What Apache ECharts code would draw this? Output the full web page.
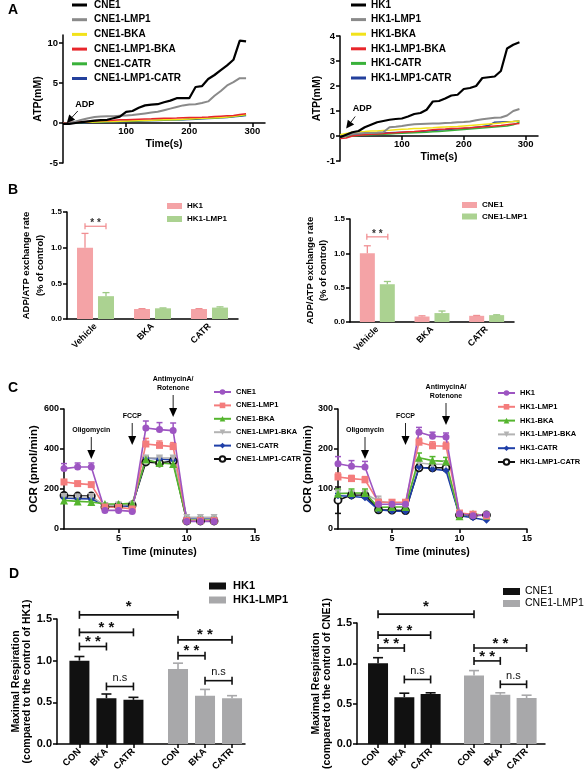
<!DOCTYPE html>
<html><head><meta charset="utf-8">
<script src="https://cdn.jsdelivr.net/npm/echarts@6/dist/echarts.min.js"></script>
<style>html,body{margin:0;padding:0;background:#fff}#c{width:586px;height:778px}</style>
</head><body><div id="c"></div>
<script>
// ================= DATA =================
// Panel A : ATP production (mM) vs time (s)
const timeA = [0,10,20,30,40,50,60,70,80,90,100,110,120,130,140,150,160,170,180,190,200,210,220,230,240,250,260,270,280,290];
const atpCNE1          = [-0.1,-0.1,0,0.1,0.2,0.3,0.35,0.4,0.6,0.8,1.4,1.5,1.9,2.2,2.3,2.35,2.6,2.8,3.1,3.1,3.1,4.5,4.6,5.5,6.0,6.6,7.2,7.9,10.3,10.2];
const atpCNE1_LMP1     = [-0.1,0,0.2,0.4,0.6,0.75,0.8,0.85,0.85,0.9,0.95,1.0,1.1,1.2,1.3,1.4,1.6,1.8,2.0,2.2,2.3,2.35,2.5,2.7,3.4,4.0,4.7,5.1,5.6,5.6];
const atpCNE1_BKA      = [0,0,0.05,0.08,0.1,0.12,0.15,0.18,0.2,0.22,0.25,0.28,0.3,0.32,0.35,0.38,0.4,0.42,0.45,0.48,0.5,0.55,0.6,0.62,0.65,0.7,0.75,0.85,0.95,1.05];
const atpCNE1_LMP1_BKA = [0,0.05,0.1,0.15,0.2,0.25,0.3,0.32,0.35,0.4,0.42,0.45,0.48,0.5,0.52,0.55,0.58,0.6,0.62,0.65,0.68,0.7,0.72,0.75,0.8,0.85,0.9,0.95,1.05,1.15];
const atpCNE1_CATR     = [0,0,0.02,0.05,0.08,0.1,0.12,0.15,0.18,0.2,0.22,0.25,0.28,0.3,0.32,0.35,0.38,0.4,0.42,0.45,0.5,0.52,0.55,0.58,0.62,0.68,0.72,0.8,0.9,1.0];
const atpCNE1_LMP1_CATR= [0,-0.05,0,0.02,0.05,0.08,0.1,0.12,0.15,0.18,0.2,0.22,0.25,0.28,0.3,0.32,0.35,0.38,0.4,0.42,0.45,0.48,0.52,0.55,0.6,0.65,0.7,0.78,0.85,0.95];

const atpHK1           = [-0.05,0.05,0.15,0.2,0.35,0.45,0.55,0.6,0.65,0.68,0.7,0.78,0.88,0.92,1.05,1.38,1.4,1.5,1.62,1.65,1.88,1.92,2.0,2.32,2.35,2.38,2.6,3.5,3.65,3.75];
const atpHK1_LMP1      = [-0.05,0.02,0.08,0.1,0.12,0.12,0.13,0.15,0.35,0.37,0.4,0.44,0.47,0.48,0.49,0.5,0.5,0.52,0.53,0.55,0.56,0.58,0.63,0.67,0.7,0.73,0.74,0.82,1.0,1.08];
const atpHK1_BKA       = [0.05,0.1,0.15,0.17,0.18,0.2,0.2,0.22,0.23,0.25,0.27,0.28,0.3,0.3,0.32,0.33,0.35,0.36,0.37,0.38,0.4,0.42,0.44,0.46,0.48,0.5,0.52,0.55,0.58,0.6];
const atpHK1_LMP1_BKA  = [-0.1,-0.08,0,0.03,0.05,0.07,0.08,0.1,0.12,0.13,0.15,0.17,0.18,0.2,0.22,0.25,0.27,0.28,0.3,0.3,0.32,0.33,0.35,0.37,0.38,0.4,0.42,0.45,0.48,0.5];
const atpHK1_CATR      = [-0.05,-0.02,0,0.02,0.04,0.05,0.06,0.07,0.08,0.1,0.11,0.12,0.13,0.14,0.15,0.17,0.18,0.2,0.22,0.24,0.26,0.28,0.3,0.32,0.34,0.36,0.38,0.4,0.45,0.55];
const atpHK1_LMP1_CATR = [0,0.02,0.05,0.07,0.08,0.1,0.11,0.12,0.13,0.14,0.15,0.16,0.17,0.18,0.2,0.22,0.24,0.25,0.27,0.29,0.3,0.32,0.35,0.38,0.42,0.55,0.56,0.57,0.58,0.6];
const adpLabel = 'ADP';
const adpAnchorCNE = [6, 0];
const adpAnchorHK = [10, 0.3];
const ticksA1Y = [-5, 0, 5, 10];
const ticksAX = [100, 200, 300];

// Panel B : ADP/ATP exchange rate
const bCats = ['Vehicle', 'BKA', 'CATR'];
const bHK1 = [1.0, 0.14, 0.14];
const bHK1Err = [0.2, 0.005, 0.005];
const bHK1_LMP1 = [0.32, 0.15, 0.16];
const bHK1_LMP1Err = [0.05, 0.005, 0.01];
const bCNE1 = [1.0, 0.08, 0.09];
const bCNE1Err = [0.11, 0.01, 0.005];
const bCNE1_LMP1 = [0.55, 0.13, 0.1];
const bCNE1_LMP1Err = [0.04, 0.03, 0.005];
const bSigHK = [[0, 1.30]];
const bSigCNE = [[0, 1.24]];
const bSigLabel = '* *';

// Panel C : OCR (pmol/min)
const cTime = [1,2,3,4,5,6,7,8,9,10,11,12];
const ocrCNE1           = [302,310,310,93,93,88,505,497,492,38,38,38];
const ocrCNE1Err        = [25,20,20,10,8,8,35,35,38,5,5,5];
const ocrCNE1_LMP1      = [235,227,222,110,108,100,425,418,412,42,42,42];
const ocrCNE1_LMP1Err   = [12,10,8,8,8,8,28,22,20,4,4,4];
const ocrCNE1_BKA       = [143,138,135,125,125,128,347,330,325,45,45,45];
const ocrCNE1_BKAErr    = [10,8,8,6,5,5,15,15,12,3,3,3];
const ocrCNE1_LMP1_BKA  = [162,160,162,118,120,122,355,355,355,58,58,58];
const ocrCNE1_LMP1_BKAErr=[8,6,6,5,5,5,10,10,10,3,3,3];
const ocrCNE1_CATR      = [155,152,150,120,118,112,355,350,345,55,55,55];
const ocrCNE1_CATRErr   = [6,5,5,5,5,5,8,8,8,3,3,3];
const ocrCNE1_LMP1_CATR = [168,165,165,110,115,120,335,330,340,40,40,40];
const ocrCNE1_LMP1_CATRErr=[8,6,6,5,5,5,20,18,15,3,3,3];

const ocrHK1            = [163,157,155,62,62,62,242,232,230,38,33,36];
const ocrHK1Err         = [18,14,14,8,8,8,12,10,10,4,4,4];
const ocrHK1_LMP1       = [130,126,123,67,67,67,217,208,207,40,37,33];
const ocrHK1_LMP1Err    = [10,8,8,6,6,6,10,10,10,4,4,4];
const ocrHK1_BKA        = [88,90,90,54,55,55,178,171,169,32,38,33];
const ocrHK1_BKAErr     = [12,10,10,6,6,6,12,10,10,4,4,4];
const ocrHK1_LMP1_BKA   = [90,88,88,70,65,65,165,162,162,38,35,35];
const ocrHK1_LMP1_BKAErr= [8,6,6,12,6,6,8,8,8,3,3,3];
const ocrHK1_CATR       = [83,82,78,48,45,44,155,150,146,33,28,22];
const ocrHK1_CATRErr    = [6,5,5,4,4,4,6,6,6,3,3,3];
const ocrHK1_LMP1_CATR  = [72,85,85,48,47,46,153,153,153,35,33,35];
const ocrHK1_LMP1_CATRErr=[33,6,6,4,4,4,6,6,6,3,3,3];
const ocrHK1_LMP1_CATRErrDown=[33,0,0,0,0,0,0,0,0,0,0,0];
const injTimes = [3, 6, 9];
const injLabels = ['Oligomycin', 'FCCP', 'AntimycinA/\nRotenone'];
const injTipCNE = [350, 420, 560];
const injTipHK = [175, 210, 260];
const ticksCX = [5, 10, 15];

// Panel D : Maximal respiration
const dCats = ['CON', 'BKA', 'CATR', 'CON', 'BKA', 'CATR'];
const dPositions = [1, 2, 3, 4.65, 5.65, 6.65];
const dHK1 = [1.0, 0.55, 0.53];
const dHK1Err = [0.05, 0.05, 0.03];
const dHK1_LMP1 = [0.9, 0.58, 0.55];
const dHK1_LMP1Err = [0.07, 0.075, 0.03];
const dCNE1 = [1.0, 0.58, 0.62];
const dCNE1Err = [0.07, 0.05, 0.015];
const dCNE1_LMP1 = [0.85, 0.61, 0.57];
const dCNE1_LMP1Err = [0.06, 0.025, 0.035];
// brackets: [from index, to index, height]
const dSigHK = [[0,3,1.55],[0,2,1.34],[0,1,1.17],[1,2,0.69],[3,5,1.25],[3,4,1.06],[4,5,0.76]];
const dSigCNE = [[0,3,1.61],[0,2,1.35],[0,1,1.19],[1,2,0.80],[3,5,1.19],[3,4,1.03],[4,5,0.74]];
const dSigLabels = ['*','* *','* *','n.s','* *','* *','n.s'];

// ================= STYLE / HELPERS =================
const FONT = '"Liberation Sans", Arial, sans-serif';
function merge(a, b) {
  const o = Array.isArray(a) ? a.slice() : Object.assign({}, a);
  for (const k in b) {
    if (b[k] && typeof b[k] === 'object' && !Array.isArray(b[k]) && a && typeof a[k] === 'object' && !Array.isArray(a[k])) o[k] = merge(a[k], b[k]);
    else o[k] = b[k];
  }
  return o;
}
const baseAxis = {
  splitLine: {show: false},
  axisLine: {show: true, onZero: false, lineStyle: {color: '#000', width: 1.5}},
  axisTick: {show: true, length: 4, lineStyle: {color: '#000', width: 1.5}},
  axisLabel: {color: '#000', fontWeight: 'bold', fontFamily: FONT, fontSize: 9, margin: 5},
  nameLocation: 'middle',
  nameTextStyle: {color: '#000', fontWeight: 'bold', fontFamily: FONT, fontSize: 10.5}
};
const ax = (o) => merge(baseAxis, o);
const pairs = (xs, ys) => xs.map((x, i) => [x, ys[i]]);
const lgFmt = (n) => n.split('|')[1];

// grid layouts
const gA1 = {left: 63, top: 35, width: 202, height: 128};
const gA2 = {left: 340, top: 36, width: 198, height: 125};
const yA1 = {min: -5, max: 11};
const yA2 = {min: -1, max: 4};
// x axis of panel A crosses at y = 0: shift it up from the grid bottom to the zero line
const zeroOffset = (g, y) => -g.height * (0 - y.min) / (y.max - y.min);

function errSeries(name, gi, xs, ys, up, down, color, cap, lw, offset) {
  return {
    type: 'custom', name: name, xAxisIndex: gi, yAxisIndex: gi, silent: true, clip: false, z: 3,
    data: xs.map((x, i) => [x, ys[i], up[i], down ? down[i] : 0]),
    renderItem: function (params, api) {
      const x = api.value(0), y = api.value(1), eu = api.value(2), ed = api.value(3);
      const pu = api.coord([x, y + eu]), pd = api.coord([x, y - ed]);
      const cx = pu[0] + (offset || 0);
      const ch = [{type: 'line', shape: {x1: cx, y1: pd[1], x2: cx, y2: pu[1]}, style: {stroke: color, lineWidth: lw}}];
      if (eu > 0) ch.push({type: 'line', shape: {x1: cx - cap / 2, y1: pu[1], x2: cx + cap / 2, y2: pu[1]}, style: {stroke: color, lineWidth: lw}});
      if (ed > 0) ch.push({type: 'line', shape: {x1: cx - cap / 2, y1: pd[1], x2: cx + cap / 2, y2: pd[1]}, style: {stroke: color, lineWidth: lw}});
      return {type: 'group', children: ch};
    }
  };
}

function arrowSeries(gi, anchors, labels, tail, textOff, head, font, lineH) {
  return {
    type: 'custom', xAxisIndex: gi, yAxisIndex: gi, silent: true, clip: false, z: 10,
    data: anchors,
    renderItem: function (params, api) {
      const p = api.coord([api.value(0), api.value(1)]);
      const tx = p[0] + tail[0], ty = p[1] + tail[1];
      const dx = p[0] - tx, dy = p[1] - ty, L = Math.hypot(dx, dy), ux = dx / L, uy = dy / L;
      const hl = head[0], hw = head[1];
      const bx = p[0] - ux * hl, by = p[1] - uy * hl;
      return {type: 'group', children: [
        {type: 'line', shape: {x1: tx, y1: ty, x2: bx, y2: by}, style: {stroke: '#222', lineWidth: 1}},
        {type: 'polygon', shape: {points: [[p[0], p[1]], [bx - uy * hw / 2, by + ux * hw / 2], [bx + uy * hw / 2, by - ux * hw / 2]]}, style: {fill: '#000'}},
        {type: 'text', x: tx + textOff[0], y: ty + textOff[1], style: {text: labels[params.dataIndex], fill: '#000', font: font, align: 'center', verticalAlign: 'bottom', lineHeight: lineH}}
      ]};
    }
  };
}

function dBars(name, gi, xs, ys, color) {
  return {
    type: 'custom', name: name, xAxisIndex: gi, yAxisIndex: gi, clip: false, z: 2,
    itemStyle: {color: color},
    data: pairs(xs, ys),
    renderItem: function (params, api) {
      const t = api.coord([api.value(0), api.value(1)]), b = api.coord([api.value(0), 0]);
      return {type: 'rect', shape: {x: t[0] - 10, y: t[1], width: 20, height: b[1] - t[1]}, style: {fill: color}};
    }
  };
}

function dBrackets(gi, rows, labels) {
  return {
    type: 'custom', xAxisIndex: gi, yAxisIndex: gi, silent: true, clip: false, z: 5,
    data: rows.map(r => [dPositions[r[0]], dPositions[r[1]], r[2]]),
    renderItem: function (params, api) {
      const a = api.coord([api.value(0), api.value(2)]), b = api.coord([api.value(1), api.value(2)]);
      const lab = labels[params.dataIndex];
      const s = {stroke: '#111', lineWidth: 1.6};
      const isNs = lab === 'n.s';
      return {type: 'group', children: [
        {type: 'line', shape: {x1: a[0], y1: a[1], x2: b[0], y2: b[1]}, style: s},
        {type: 'line', shape: {x1: a[0], y1: a[1] - 4, x2: a[0], y2: a[1] + 4}, style: s},
        {type: 'line', shape: {x1: b[0], y1: b[1] - 4, x2: b[0], y2: b[1] + 4}, style: s},
        {type: 'text', x: (a[0] + b[0]) / 2, y: a[1] - (isNs ? 3 : (lab === '*' ? 0 : -3)),
          style: {text: lab, fill: '#111', font: (isNs ? '11px ' : 'bold 15px ') + FONT, align: 'center', verticalAlign: 'bottom'}}
      ]};
    }
  };
}

function bBracket(gi, rows, color) {
  return {
    type: 'custom', xAxisIndex: gi, yAxisIndex: gi, silent: true, clip: false, z: 5,
    data: rows,
    renderItem: function (params, api) {
      const c = api.coord([api.value(0), api.value(1)]);
      const x1 = c[0] - 10.5, x2 = c[0] + 10.5, y = c[1];
      const s = {stroke: color, lineWidth: 1.2};
      return {type: 'group', children: [
        {type: 'line', shape: {x1: x1, y1: y, x2: x2, y2: y}, style: s},
        {type: 'line', shape: {x1: x1, y1: y - 3, x2: x1, y2: y + 3}, style: s},
        {type: 'line', shape: {x1: x2, y1: y - 3, x2: x2, y2: y + 3}, style: s},
        {type: 'text', x: c[0], y: y + 2, style: {text: bSigLabel, fill: '#333', font: 'bold 10px ' + FONT, align: 'center', verticalAlign: 'bottom'}}
      ]};
    }
  };
}

// ================= OPTION =================
const cA = {black: '#000', gray: '#8a8a8a', yellow: '#f2e21a', red: '#e8262b', green: '#39b13a', blue: '#23409c'};
const cC = {purple: '#9d55c2', salmon: '#f47c7c', green: '#55b52e', gray: '#b3b3b3', blue: '#1f3fa8', black: '#111'};
const pinkBar = '#f4a3a6', greenBar = '#abd291';

function aLine(name, gi, ys, color, w) {
  return {type: 'line', name: name, xAxisIndex: gi, yAxisIndex: gi, data: pairs(timeA, ys), showSymbol: false, symbol: 'none',
    lineStyle: {color: color, width: w}, itemStyle: {color: color}, z: 4};
}
function cLine(name, gi, ys, color, symbol, extra) {
  return merge({type: 'line', name: name, xAxisIndex: gi, yAxisIndex: gi, data: pairs(cTime, ys), symbol: symbol, symbolSize: 7,
    lineStyle: {color: color, width: 1.6}, itemStyle: {color: color}, z: 4}, extra || {});
}

const aNamesL = ['CNE1','CNE1-LMP1','CNE1-BKA','CNE1-LMP1-BKA','CNE1-CATR','CNE1-LMP1-CATR'];
const aNamesR = ['HK1','HK1-LMP1','HK1-BKA','HK1-LMP1-BKA','HK1-CATR','HK1-LMP1-CATR'];

const option = {
  animation: false,
  backgroundColor: '#fff',
  textStyle: {fontFamily: FONT},
  grid: [
    gA1,
    gA2,
    {left: 67, top: 212, width: 171, height: 107},
    {left: 350, top: 219, width: 164, height: 103},
    {left: 64, top: 409, width: 191, height: 120},
    {left: 338, top: 409, width: 189, height: 120},
    {left: 57, top: 619, width: 188, height: 125},
    {left: 357, top: 623, width: 188, height: 121}
  ],
  xAxis: [
    ax({type: 'value', gridIndex: 0, min: 0, max: 320, offset: zeroOffset(gA1, yA1), axisLabel: {customValues: ticksAX, margin: 3, fontSize: 9.5}, axisTick: {customValues: ticksAX}, name: 'Time(s)', nameGap: 16}),
    ax({type: 'value', gridIndex: 1, min: 0, max: 320, offset: zeroOffset(gA2, yA2), axisLabel: {customValues: ticksAX, margin: 3, fontSize: 9.5}, axisTick: {customValues: ticksAX}, name: 'Time(s)', nameGap: 16}),
    ax({type: 'category', gridIndex: 2, data: bCats, axisTick: {show: false}, axisLabel: {rotate: 45, fontSize: 9, margin: 6}}),
    ax({type: 'category', gridIndex: 3, data: bCats, axisTick: {show: false}, axisLabel: {rotate: 45, fontSize: 9, margin: 6}}),
    ax({type: 'value', gridIndex: 4, min: 1, max: 15, axisLabel: {customValues: ticksCX, fontSize: 9}, axisTick: {customValues: ticksCX}, name: 'Time (minutes)', nameGap: 18}),
    ax({type: 'value', gridIndex: 5, min: 1, max: 15, axisLabel: {customValues: ticksCX, fontSize: 9}, axisTick: {customValues: ticksCX}, name: 'Time (minutes)', nameGap: 18}),
    ax({type: 'value', gridIndex: 6, min: 0.17, max: 7.13, axisLabel: {customValues: dPositions, rotate: 45, fontSize: 9.5, margin: 6,
      formatter: v => dCats[dPositions.findIndex(p => Math.abs(p - v) < 1e-6)] || ''}, axisTick: {customValues: dPositions}}),
    ax({type: 'value', gridIndex: 7, min: 0.2, max: 7.35, axisLabel: {customValues: dPositions, rotate: 45, fontSize: 9.5, margin: 6,
      formatter: v => dCats[dPositions.findIndex(p => Math.abs(p - v) < 1e-6)] || ''}, axisTick: {customValues: dPositions}})
  ],
  yAxis: [
    ax({type: 'value', gridIndex: 0, min: yA1.min, max: yA1.max, axisLabel: {customValues: ticksA1Y, fontSize: 9.5}, axisTick: {customValues: ticksA1Y}, name: 'ATP(mM)', nameGap: 19}),
    ax({type: 'value', gridIndex: 1, min: yA2.min, max: yA2.max, interval: 1, axisLabel: {fontSize: 9.5}, name: 'ATP(mM)', nameGap: 16}),
    ax({type: 'value', gridIndex: 2, min: 0, max: 1.5, interval: 0.5, axisLabel: {fontSize: 8, formatter: v => v.toFixed(1)},
      name: 'ADP/ATP exchange rate\n(% of control)', nameGap: 19, nameTextStyle: {fontSize: 9.5, lineHeight: 14}}),
    ax({type: 'value', gridIndex: 3, min: 0, max: 1.5, interval: 0.5, axisLabel: {fontSize: 8, formatter: v => v.toFixed(1)},
      name: 'ADP/ATP exchange rate\n(% of control)', nameGap: 19, nameTextStyle: {fontSize: 9.5, lineHeight: 13}}),
    ax({type: 'value', gridIndex: 4, min: 0, max: 600, interval: 200, axisLabel: {fontSize: 9}, name: 'OCR (pmol/min)', nameGap: 23, nameTextStyle: {fontSize: 11.5}}),
    ax({type: 'value', gridIndex: 5, min: 0, max: 300, interval: 100, axisLabel: {fontSize: 9}, name: 'OCR (pmol/min)', nameGap: 24, nameTextStyle: {fontSize: 11.5}}),
    ax({type: 'value', gridIndex: 6, min: 0, max: 1.5, interval: 0.5, axisLabel: {fontSize: 11, formatter: v => v.toFixed(1)},
      name: 'Maximal Respiration\n(compared to the control of HK1)', nameGap: 18, nameTextStyle: {fontSize: 10.5, lineHeight: 11}}),
    ax({type: 'value', gridIndex: 7, min: 0, max: 1.5, interval: 0.5, axisLabel: {fontSize: 11, formatter: v => v.toFixed(1)},
      name: 'Maximal Respiration\n(compared to the control of CNE1)', nameGap: 18, nameTextStyle: {fontSize: 10.5, lineHeight: 11}})
  ],
  legend: [
    {data: aNamesL.map(n => 'A1|' + n), formatter: lgFmt, orient: 'vertical', left: 72, top: -1, padding: 0, itemWidth: 15, itemHeight: 3, itemGap: 2.7, icon: 'rect',
      textStyle: {fontSize: 10, fontWeight: 'bold', color: '#000', lineHeight: 12, padding: [0, 0, 0, 2]}},
    {data: aNamesR.map(n => 'A2|' + n), formatter: lgFmt, orient: 'vertical', left: 351, top: -1, padding: 0, itemWidth: 15, itemHeight: 3, itemGap: 2.6, icon: 'rect',
      textStyle: {fontSize: 10, fontWeight: 'bold', color: '#000', lineHeight: 12}},
    {data: ['B1|HK1', 'B1|HK1-LMP1'], formatter: lgFmt, orient: 'vertical', left: 167, top: 201, padding: 0, itemWidth: 15, itemHeight: 6, itemGap: 3, icon: 'rect',
      textStyle: {fontSize: 8, fontWeight: 'bold', color: '#000', lineHeight: 10}},
    {data: ['B2|CNE1', 'B2|CNE1-LMP1'], formatter: lgFmt, orient: 'vertical', left: 462, top: 200, padding: 0, itemWidth: 15, itemHeight: 6, itemGap: 1.5, icon: 'rect',
      textStyle: {fontSize: 8, fontWeight: 'bold', color: '#000', lineHeight: 10}},
    {data: aNamesL.map(n => 'C1|' + n), formatter: lgFmt, orient: 'vertical', left: 213, top: 387, padding: 0, itemWidth: 17, itemHeight: 7, itemGap: 3.4,
      textStyle: {fontSize: 7.5, fontWeight: 'bold', color: '#000', lineHeight: 10}},
    {data: aNamesR.map(n => 'C2|' + n), formatter: lgFmt, orient: 'vertical', left: 497, top: 388, padding: 0, itemWidth: 17, itemHeight: 7, itemGap: 3.8,
      textStyle: {fontSize: 7.5, fontWeight: 'bold', color: '#000', lineHeight: 10}},
    {data: ['D1|HK1', 'D1|HK1-LMP1'], formatter: lgFmt, orient: 'vertical', left: 209, top: 580, padding: 0, itemWidth: 17, itemHeight: 7, itemGap: 2, icon: 'rect',
      textStyle: {fontSize: 11, fontWeight: 'bold', color: '#000', lineHeight: 12, padding: [0, 0, 0, 2]}},
    {data: ['D2|CNE1', 'D2|CNE1-LMP1'], formatter: lgFmt, orient: 'vertical', left: 503, top: 586, padding: 0, itemWidth: 17, itemHeight: 7, itemGap: 1, icon: 'rect',
      textStyle: {fontSize: 10.5, color: '#000', lineHeight: 11}}
  ],
  graphic: [
    {type: 'text', left: 8, top: 3, style: {text: 'A', font: 'bold 14px ' + FONT, fill: '#000'}},
    {type: 'text', left: 8, top: 183, style: {text: 'B', font: 'bold 14px ' + FONT, fill: '#000'}},
    {type: 'text', left: 8, top: 381, style: {text: 'C', font: 'bold 14px ' + FONT, fill: '#000'}},
    {type: 'text', left: 9, top: 567, style: {text: 'D', font: 'bold 14px ' + FONT, fill: '#000'}}
  ],
  series: [
    // A left
    aLine('A1|CNE1-LMP1-CATR', 0, atpCNE1_LMP1_CATR, cA.blue, 1.5),
    aLine('A1|CNE1-CATR', 0, atpCNE1_CATR, cA.green, 1.5),
    aLine('A1|CNE1-BKA', 0, atpCNE1_BKA, cA.yellow, 1.5),
    aLine('A1|CNE1-LMP1-BKA', 0, atpCNE1_LMP1_BKA, cA.red, 1.5),
    aLine('A1|CNE1-LMP1', 0, atpCNE1_LMP1, cA.gray, 2),
    aLine('A1|CNE1', 0, atpCNE1, cA.black, 2.2),
    arrowSeries(0, [adpAnchorCNE], [adpLabel], [11, -12], [7, -1], [8, 8], 'bold 9px ' + FONT, 10),
    // A right
    aLine('A2|HK1-LMP1-CATR', 1, atpHK1_LMP1_CATR, cA.blue, 1.5),
    aLine('A2|HK1-CATR', 1, atpHK1_CATR, cA.green, 1.5),
    aLine('A2|HK1-BKA', 1, atpHK1_BKA, cA.yellow, 1.5),
    aLine('A2|HK1-LMP1-BKA', 1, atpHK1_LMP1_BKA, cA.red, 1.5),
    aLine('A2|HK1-LMP1', 1, atpHK1_LMP1, cA.gray, 2),
    aLine('A2|HK1', 1, atpHK1, cA.black, 2.2),
    arrowSeries(1, [adpAnchorHK], [adpLabel], [9, -12], [7, -3], [8, 8], 'bold 9px ' + FONT, 10),
    // B left
    {type: 'bar', name: 'B1|HK1', xAxisIndex: 2, yAxisIndex: 2, data: bHK1, barWidth: 16, barGap: '31%', itemStyle: {color: pinkBar}},
    {type: 'bar', name: 'B1|HK1-LMP1', xAxisIndex: 2, yAxisIndex: 2, data: bHK1_LMP1, barWidth: 16, barGap: '31%', itemStyle: {color: greenBar}},
    errSeries('eb1', 2, [0, 1, 2], bHK1, bHK1Err, null, '#f08f93', 7, 1.3, -10.5),
    errSeries('eb2', 2, [0, 1, 2], bHK1_LMP1, bHK1_LMP1Err, null, '#9cc983', 7, 1.3, 10.5),
    bBracket(2, bSigHK, '#f08a8d'),
    // B right
    {type: 'bar', name: 'B2|CNE1', xAxisIndex: 3, yAxisIndex: 3, data: bCNE1, barWidth: 15, barGap: '33%', itemStyle: {color: pinkBar}},
    {type: 'bar', name: 'B2|CNE1-LMP1', xAxisIndex: 3, yAxisIndex: 3, data: bCNE1_LMP1, barWidth: 15, barGap: '33%', itemStyle: {color: greenBar}},
    errSeries('eb3', 3, [0, 1, 2], bCNE1, bCNE1Err, null, '#f08f93', 7, 1.3, -10),
    errSeries('eb4', 3, [0, 1, 2], bCNE1_LMP1, bCNE1_LMP1Err, null, '#9cc983', 7, 1.3, 10),
    bBracket(3, bSigCNE, '#f08a8d'),
    // C left
    errSeries('ec1', 4, cTime, ocrCNE1_LMP1_CATR, ocrCNE1_LMP1_CATRErr, null, cC.black, 6, 1.5),
    errSeries('ec2', 4, cTime, ocrCNE1_CATR, ocrCNE1_CATRErr, null, cC.blue, 6, 1.5),
    errSeries('ec3', 4, cTime, ocrCNE1_LMP1_BKA, ocrCNE1_LMP1_BKAErr, null, cC.gray, 6, 1.5),
    errSeries('ec4', 4, cTime, ocrCNE1_BKA, ocrCNE1_BKAErr, null, cC.green, 6, 1.5),
    errSeries('ec5', 4, cTime, ocrCNE1_LMP1, ocrCNE1_LMP1Err, null, cC.salmon, 6, 1.5),
    errSeries('ec6', 4, cTime, ocrCNE1, ocrCNE1Err, null, cC.purple, 6, 1.5),
    cLine('C1|CNE1-LMP1-CATR', 4, ocrCNE1_LMP1_CATR, cC.black, 'circle', {itemStyle: {color: '#fff', borderColor: '#111', borderWidth: 1.8}}),
    cLine('C1|CNE1-CATR', 4, ocrCNE1_CATR, cC.blue, 'diamond'),
    cLine('C1|CNE1-LMP1-BKA', 4, ocrCNE1_LMP1_BKA, cC.gray, 'triangle', {symbolRotate: 180}),
    cLine('C1|CNE1-BKA', 4, ocrCNE1_BKA, cC.green, 'triangle', {symbolSize: 8}),
    cLine('C1|CNE1-LMP1', 4, ocrCNE1_LMP1, cC.salmon, 'rect'),
    cLine('C1|CNE1', 4, ocrCNE1, cC.purple, 'circle'),
    arrowSeries(4, pairs(injTimes, injTipCNE), injLabels, [0, -22], [0, -3], [9, 8], 'bold 7px ' + FONT, 8.5),
    // C right
    errSeries('ec7', 5, cTime, ocrHK1_LMP1_CATR, ocrHK1_LMP1_CATRErr, ocrHK1_LMP1_CATRErrDown, cC.black, 6, 1.5),
    errSeries('ec8', 5, cTime, ocrHK1_CATR, ocrHK1_CATRErr, null, cC.blue, 6, 1.5),
    errSeries('ec9', 5, cTime, ocrHK1_LMP1_BKA, ocrHK1_LMP1_BKAErr, null, cC.gray, 6, 1.5),
    errSeries('ec10', 5, cTime, ocrHK1_BKA, ocrHK1_BKAErr, null, cC.green, 6, 1.5),
    errSeries('ec11', 5, cTime, ocrHK1_LMP1, ocrHK1_LMP1Err, null, cC.salmon, 6, 1.5),
    errSeries('ec12', 5, cTime, ocrHK1, ocrHK1Err, null, cC.purple, 6, 1.5),
    cLine('C2|HK1-LMP1-CATR', 5, ocrHK1_LMP1_CATR, cC.black, 'circle', {itemStyle: {color: '#fff', borderColor: '#111', borderWidth: 1.8}}),
    cLine('C2|HK1-CATR', 5, ocrHK1_CATR, cC.blue, 'diamond'),
    cLine('C2|HK1-LMP1-BKA', 5, ocrHK1_LMP1_BKA, cC.gray, 'triangle', {symbolRotate: 180}),
    cLine('C2|HK1-BKA', 5, ocrHK1_BKA, cC.green, 'triangle', {symbolSize: 8}),
    cLine('C2|HK1-LMP1', 5, ocrHK1_LMP1, cC.salmon, 'rect'),
    cLine('C2|HK1', 5, ocrHK1, cC.purple, 'circle'),
    arrowSeries(5, pairs(injTimes, injTipHK), injLabels, [0, -22], [0, -3], [9, 8], 'bold 7px ' + FONT, 8.5),
    // D left
    dBars('D1|HK1', 6, dPositions.slice(0, 3), dHK1, '#111'),
    dBars('D1|HK1-LMP1', 6, dPositions.slice(3), dHK1_LMP1, '#a8a8aa'),
    errSeries('ed1', 6, dPositions.slice(0, 3), dHK1, dHK1Err, null, '#111', 10, 1.6),
    errSeries('ed2', 6, dPositions.slice(3), dHK1_LMP1, dHK1_LMP1Err, null, '#a8a8aa', 10, 1.6),
    dBrackets(6, dSigHK, dSigLabels),
    // D right
    dBars('D2|CNE1', 7, dPositions.slice(0, 3), dCNE1, '#111'),
    dBars('D2|CNE1-LMP1', 7, dPositions.slice(3), dCNE1_LMP1, '#a8a8aa'),
    errSeries('ed3', 7, dPositions.slice(0, 3), dCNE1, dCNE1Err, null, '#111', 10, 1.6),
    errSeries('ed4', 7, dPositions.slice(3), dCNE1_LMP1, dCNE1_LMP1Err, null, '#a8a8aa', 10, 1.6),
    dBrackets(7, dSigCNE, dSigLabels)
  ]
};
const chart = echarts.init(document.getElementById('c'), null, {renderer: 'canvas'});
chart.setOption(option);
</script>
</body></html>
